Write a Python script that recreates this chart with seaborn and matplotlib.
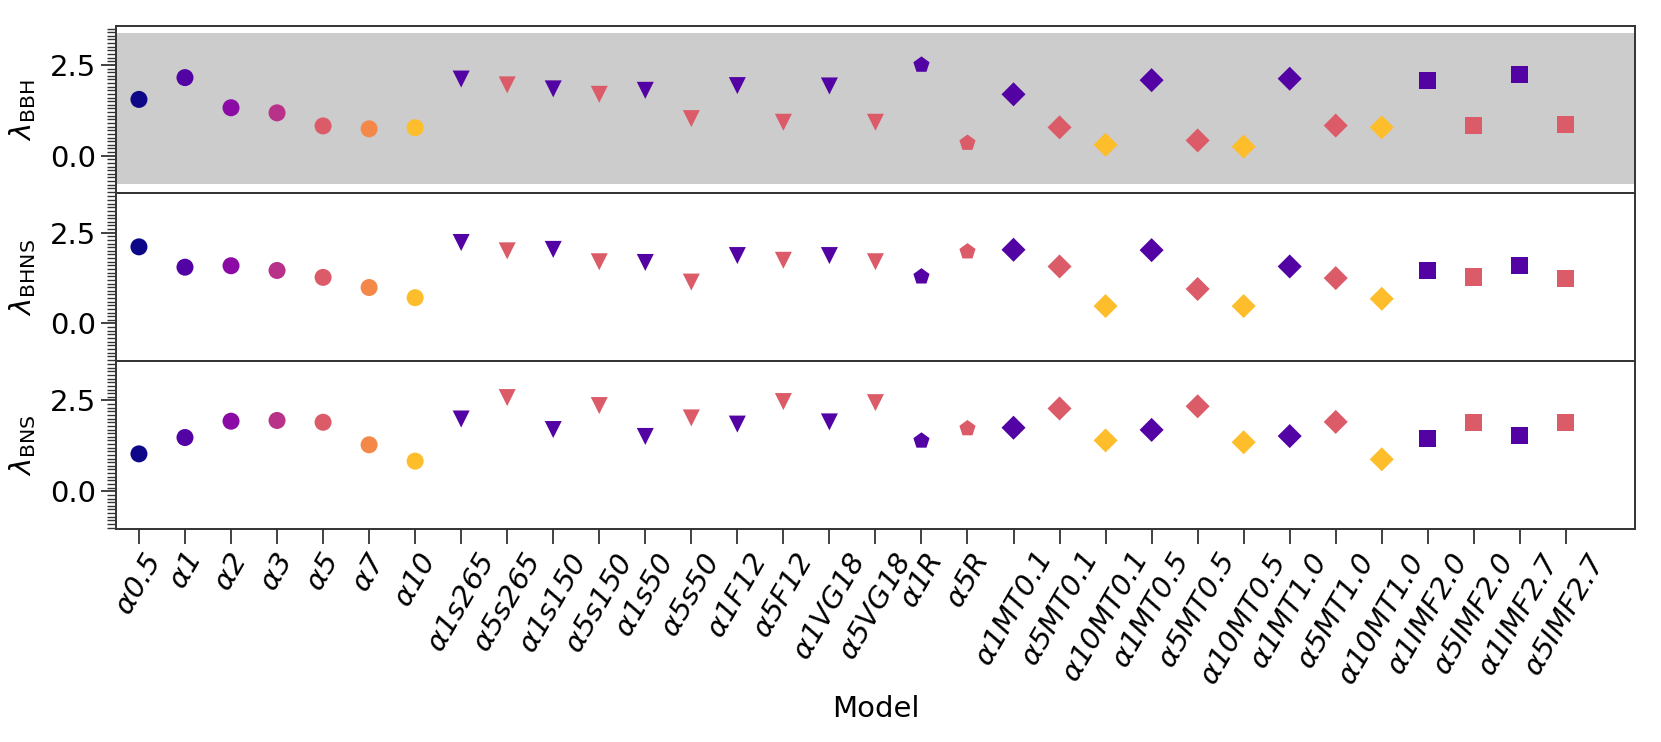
import numpy as np
import pandas as pd
import matplotlib
matplotlib.use("Agg")
import matplotlib.pyplot as plt
import seaborn as sns
from matplotlib.ticker import MultipleLocator

models = ["0.5", "1", "2", "3", "5", "7", "10",
          "1s265", "5s265", "1s150", "5s150", "1s50", "5s50",
          "1F12", "5F12", "1VG18", "5VG18",
          "1R", "5R",
          "1MT0.1", "5MT0.1", "10MT0.1", "1MT0.5", "5MT0.5", "10MT0.5",
          "1MT1.0", "5MT1.0", "10MT1.0",
          "1IMF2.0", "5IMF2.0", "1IMF2.7", "5IMF2.7"]
alpha_ce = [0.5, 1, 2, 3, 5, 7, 10,
            1, 5, 1, 5, 1, 5,
            1, 5, 1, 5,
            1, 5,
            1, 5, 10, 1, 5, 10, 1, 5, 10,
            1, 5, 1, 5]
group = (["alpha"] * 7 + ["spin"] * 6 + ["kick"] * 4 + ["remnant"] * 2
         + ["mt"] * 9 + ["imf"] * 4)

lam_bbh = [1.55, 2.15, 1.32, 1.18, 0.82, 0.74, 0.77,
           2.11, 1.95, 1.84, 1.69, 1.80, 1.02,
           1.93, 0.92, 1.92, 0.92,
           2.50, 0.35,
           1.69, 0.78, 0.30, 2.08, 0.42, 0.25, 2.12, 0.83, 0.78,
           2.06, 0.83, 2.23, 0.85]
lam_bhns = [2.11, 1.55, 1.59, 1.46, 1.27, 0.99, 0.71,
            2.23, 2.00, 2.04, 1.70, 1.68, 1.14,
            1.87, 1.74, 1.87, 1.70,
            1.29, 1.98,
            2.03, 1.57, 0.48, 2.02, 0.95, 0.48, 1.57, 1.25, 0.68,
            1.47, 1.28, 1.61, 1.24]
lam_bns = [1.03, 1.48, 1.93, 1.95, 1.90, 1.28, 0.83,
           1.99, 2.58, 1.70, 2.36, 1.51, 2.02,
           1.85, 2.47, 1.91, 2.44,
           1.39, 1.73,
           1.75, 2.28, 1.40, 1.69, 2.34, 1.35, 1.52, 1.91, 0.88,
           1.46, 1.90, 1.53, 1.90]

alpha_levels = [0.5, 1, 2, 3, 5, 7, 10]
band_bbh = (-0.78, 3.38)
ylabels = [r"$\lambda_{\rm BBH}$", r"$\lambda_{\rm BHNS}$", r"$\lambda_{\rm BNS}$"]

cmap = plt.get_cmap("plasma")
palette = {str(a): cmap(i / 7) for i, a in enumerate(alpha_levels)}
marker_map = {"alpha": "o", "spin": "v", "kick": "v", "remnant": "p",
              "mt": "D", "imf": "s"}

sns.set_style("ticks")
plt.rcParams["font.family"] = ["DejaVu Sans"]
plt.rcParams.update({"text.color": "black", "axes.labelcolor": "black",
                     "xtick.color": "black", "ytick.color": "black"})

df = pd.DataFrame({
    "idx": np.arange(len(models)),
    "alpha": [str(a) for a in alpha_ce],
    "group": group,
    "bbh": lam_bbh, "bhns": lam_bhns, "bns": lam_bns,
})

fig, axes = plt.subplots(3, 1, sharex=True, figsize=(16.61, 7.42), dpi=100)
plt.subplots_adjust(left=0.0698, right=0.9843, top=0.9654, bottom=0.287, hspace=0)

for ax, col, yl in zip(axes, ["bbh", "bhns", "bns"], ylabels):
    sns.scatterplot(data=df, x="idx", y=col, hue="alpha", style="group",
                    palette=palette, markers=marker_map, s=150,
                    linewidth=0, legend=False, ax=ax, zorder=3)
    ax.set_ylim(-1.04, 3.58)
    ax.set_xlim(-0.5, len(models) + 0.5)
    ax.yaxis.set_major_locator(MultipleLocator(2.5))
    ax.yaxis.set_minor_locator(MultipleLocator(0.1))
    ax.tick_params(axis="y", which="major", length=11, width=1.3, labelsize=21,
                   color="#333333", labelcolor="black")
    ax.tick_params(axis="y", which="minor", length=6.5, width=1.0, color="#333333")
    ax.tick_params(axis="x", which="major", length=11, width=1.3, labelsize=21,
                   color="#333333", labelcolor="black")
    ax.set_ylabel(yl, fontsize=21, labelpad=8, color="black")
    ax.set_xlabel("")
    for sp in ax.spines.values():
        sp.set_linewidth(1.4)
        sp.set_color("#333333")

axes[0].axhspan(band_bbh[0], band_bbh[1], color="#cccccc", lw=0, zorder=0)

axes[-1].set_xticks(np.arange(len(models)))
axes[-1].set_xticklabels([r"$\alpha$" + m for m in models], rotation=60,
                         fontstyle="italic", fontsize=21)
axes[-1].set_xlabel("Model", fontsize=21, color="black")

fig.savefig("out.png", dpi=100)
